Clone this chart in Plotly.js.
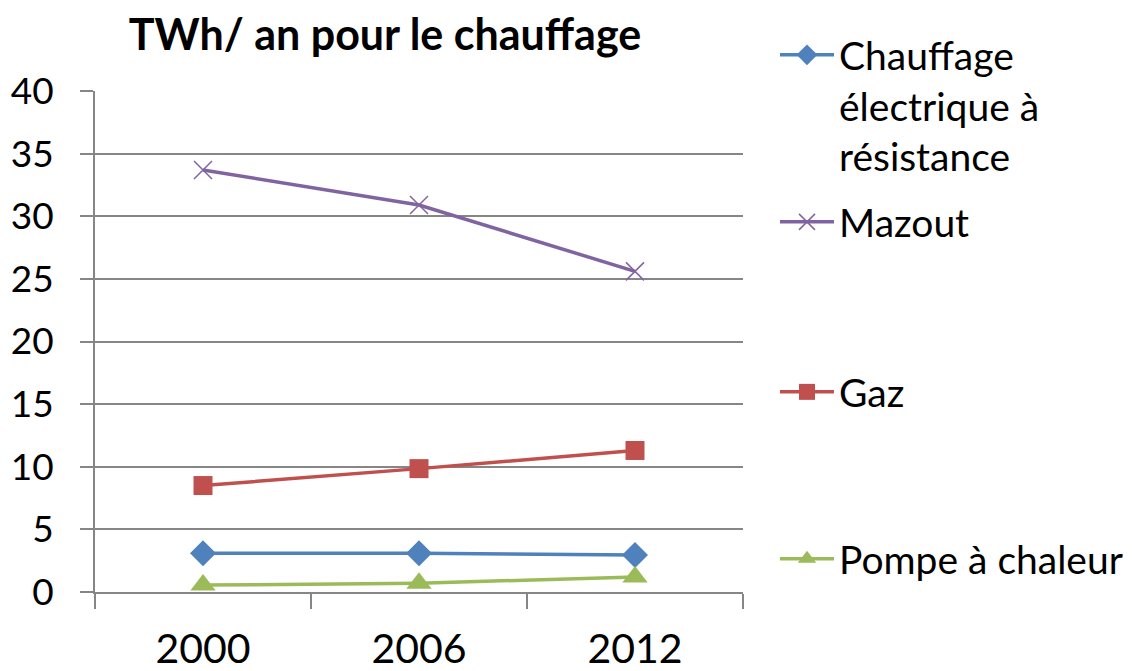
<!DOCTYPE html>
<html><head><meta charset="utf-8">
<script src="https://cdn.plot.ly/plotly-3.0.1.min.js"></script>
<style>html,body{margin:0;padding:0;background:#fff}#chart{width:1132px;height:671px}</style>
</head><body><div id="chart"></div>
<script>
const years = ['2000','2006','2012'];
const electrique = [3.1, 3.1, 2.95];
const mazout = [33.7, 30.9, 25.6];
const gaz = [8.5, 9.85, 11.3];
const pompe = [0.55, 0.7, 1.2];
const seriesNames = ['Chauffage<br>électrique à<br>résistance','Mazout','Gaz','Pompe à chaleur'];
const yTicks = [0,5,10,15,20,25,30,35,40];

const FONT = 'Lato, Carlito, Calibri, sans-serif';
const traces = [
  {x: years, y: electrique, name: seriesNames[0], legend:'legend', mode:'lines+markers',
   line:{color:'#4F81BD', width:3.5}, marker:{symbol:'diamond', size:20, color:'#4F81BD'}},
  {x: years, y: mazout, name: seriesNames[1], legend:'legend2', mode:'lines+markers',
   line:{color:'#8064A2', width:3.5}, marker:{symbol:'x-thin', size:18, color:'#8064A2', line:{color:'#8064A2', width:1.5}}},
  {x: years, y: gaz, name: seriesNames[2], legend:'legend3', mode:'lines+markers',
   line:{color:'#C0504D', width:3.5}, marker:{symbol:'square', size:19, color:'#C0504D'}},
  {x: years, y: pompe, name: seriesNames[3], legend:'legend4', mode:'lines+markers',
   line:{color:'#9BBB59', width:3.5}, marker:{symbol:'triangle-up', size:22, color:'#9BBB59'}}
];
function leg(yPx){
  return {xref:'container', yref:'container', x:775/1132, y:1-yPx/671, xanchor:'left', yanchor:'top',
    font:{family:FONT, size:39, color:'#000'}, valign:'top', bgcolor:'rgba(0,0,0,0)', itemwidth:54, tracegroupgap:0};
}
const layout = {
  width:1132, height:671,
  margin:{l:95, r:389, t:91, b:79},
  paper_bgcolor:'#fff', plot_bgcolor:'#fff',
  showlegend:true,
  title:{text:'<b>TWh/ an pour le chauffage</b>', font:{family:FONT, size:43, color:'#000'},
    x:385/1132, xanchor:'center', xref:'container', y:1-35/671, yanchor:'middle', yref:'container'},
  xaxis:{type:'category', range:[-0.5,2.5], tickson:'boundaries', ticks:'outside', ticklen:15, tickwidth:2,
    tickcolor:'#868686', showline:true, linecolor:'#868686', linewidth:2, showgrid:false, zeroline:false,
    tickfont:{family:FONT, size:41, color:'#000'}, ticklabelstandoff:20},
  yaxis:{range:[0,40], tickvals:yTicks, ticks:'outside', ticklen:13, tickwidth:2, tickcolor:'#868686',
    showline:true, linecolor:'#868686', linewidth:2, showgrid:true, gridcolor:'#868686', gridwidth:2, zeroline:false,
    tickfont:{family:FONT, size:37, color:'#000'}, ticklabelstandoff:19},
  legend: leg(23),
  legend2: leg(190),
  legend3: leg(360),
  legend4: leg(527)
};
Plotly.newPlot('chart', traces, layout, {displayModeBar:false, staticPlot:true});
</script></body></html>
